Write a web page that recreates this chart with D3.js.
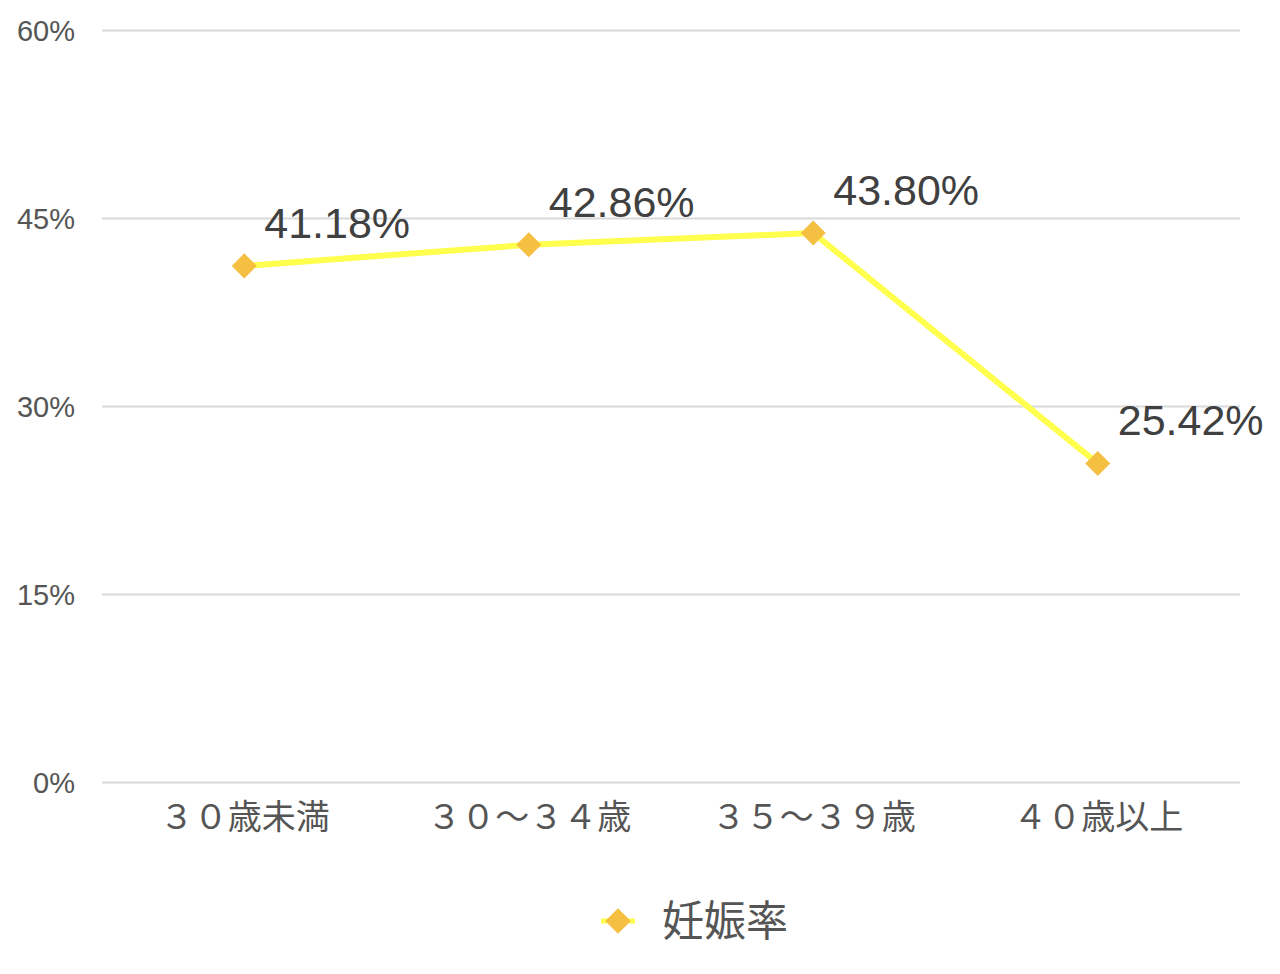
<!DOCTYPE html>
<html>
<head>
  <meta charset="UTF-8">
  <title>妊娠率</title>
  <script src="https://d3js.org/d3.v7.min.js"></script>
  <style>
    body { margin: 0; background: #fff; }
  </style>
</head>
<body>
    <svg id="chart" width="1280" height="974"></svg>

    <script>
        // data
        const categories = ["３０歳未満", "３０～３４歳", "３５～３９歳", "４０歳以上"];
        const rates = [41.18, 42.86, 43.80, 25.42];
        const yTicks = [0, 15, 30, 45, 60];
        const seriesName = "妊娠率";

        const svg = d3.select("#chart");
        const margin = { top: 30, right: 40, bottom: 192, left: 102 };
        const width = +svg.attr("width");
        const height = +svg.attr("height");

        const latin = "'Liberation Sans', Helvetica, Arial, sans-serif";
        const cjk = "'Noto Sans CJK JP', 'Liberation Sans', sans-serif";

        const x = d3.scalePoint()
            .domain(categories)
            .range([margin.left, width - margin.right])
            .padding(0.5);

        const y = d3.scaleLinear()
            .domain([0, 60])
            .range([height - margin.bottom, margin.top]);

        // grid lines + y labels
        const yAxis = d3.axisLeft(y)
            .tickValues(yTicks)
            .tickSize(-(width - margin.right - margin.left))
            .tickFormat(d => d + "%");

        const gy = svg.append("g")
            .attr("transform", "translate(" + margin.left + ",0)")
            .call(yAxis);
        gy.select(".domain").remove();
        gy.selectAll(".tick line")
            .attr("stroke", "#d9d9d9")
            .attr("stroke-width", 2);
        gy.selectAll(".tick text")
            .attr("x", -27)
            .attr("dy", "0.36em")
            .attr("fill", "#555")
            .style("font-family", latin)
            .style("font-size", "29px");

        // x labels
        const gx = svg.append("g")
            .attr("transform", "translate(0," + (height - margin.bottom) + ")")
            .call(d3.axisBottom(x).tickSize(0));
        gx.select(".domain").remove();
        gx.selectAll(".tick text")
            .attr("y", 35)
            .attr("dy", "0.36em")
            .attr("fill", "#555")
            .style("font-family", cjk)
            .style("font-size", "34px");

        const pts = categories.map((c, i) => ({ cat: c, v: rates[i] }));

        const line = d3.line()
            .x(d => x(d.cat))
            .y(d => y(d.v));

        svg.append("path")
            .datum(pts)
            .attr("fill", "none")
            .attr("stroke", "#ffff4d")
            .attr("stroke-width", 6)
            .attr("stroke-linejoin", "round")
            .attr("d", line);

        const diamond = d3.symbol().type(d3.symbolDiamond2).size(400);

        svg.selectAll("path.marker")
            .data(pts)
            .join("path")
            .attr("class", "marker")
            .attr("transform", d => "translate(" + x(d.cat) + "," + y(d.v) + ")")
            .attr("d", diamond)
            .attr("fill", "#f5bf42");

        svg.selectAll("text.value")
            .data(pts)
            .join("text")
            .attr("class", "value")
            .attr("x", d => x(d.cat) + 20)
            .attr("y", d => y(d.v) - 28)
            .attr("fill", "#404040")
            .style("font-family", latin)
            .style("font-size", "43px")
            .text(d => d.v.toFixed(2) + "%");

        // legend
        const legend = svg.append("g").attr("transform", "translate(618,921)");
        legend.append("line")
            .attr("x1", -17).attr("x2", 17)
            .attr("stroke", "#ffff4d")
            .attr("stroke-width", 5);
        legend.append("path")
            .attr("d", d3.symbol().type(d3.symbolDiamond2).size(420))
            .attr("fill", "#f5bf42");
        legend.append("text")
            .attr("x", 44)
            .attr("dy", "0.36em")
            .attr("fill", "#555")
            .style("font-family", cjk)
            .style("font-size", "42px")
            .text(seriesName);
    </script>
</body>
</html>
